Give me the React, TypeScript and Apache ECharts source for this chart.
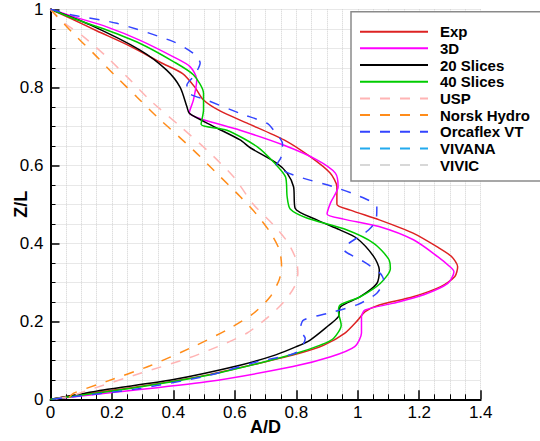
import React, { useEffect, useRef } from "react";
import * as echarts from "echarts";

type P = [number, number];

const xTicks = [0, 0.2, 0.4, 0.6, 0.8, 1, 1.2, 1.4];
const yTicks = [0, 0.2, 0.4, 0.6, 0.8, 1];

const seriesNames = ["Exp", "3D", "20 Slices", "40 Slices", "USP", "Norsk Hydro", "Orcaflex VT", "VIVANA", "VIVIC"];

const expData: P[] = [
  [0, 1], [0.07, 0.975], [0.15, 0.945], [0.26, 0.905], [0.36, 0.863], [0.43, 0.835], [0.47, 0.8], [0.497, 0.768],
  [0.55, 0.74], [0.64, 0.708], [0.76, 0.665], [0.845, 0.622], [0.91, 0.58], [0.932, 0.545], [0.932, 0.5],
  [0.976, 0.485], [1.07, 0.46], [1.18, 0.426], [1.26, 0.39], [1.305, 0.366], [1.325, 0.34], [1.316, 0.315],
  [1.27, 0.289], [1.18, 0.263], [1.07, 0.242], [1.024, 0.225], [1.0, 0.203], [0.957, 0.169], [0.89, 0.139],
  [0.81, 0.118], [0.676, 0.092], [0.508, 0.062], [0.284, 0.032], [0.06, 0.008], [0, 0],
];

const d3Data: P[] = [
  [0, 1], [0.08, 0.98], [0.183, 0.955], [0.29, 0.921], [0.4, 0.878], [0.454, 0.853], [0.476, 0.82], [0.465, 0.767],
  [0.452, 0.735], [0.486, 0.72], [0.617, 0.69], [0.758, 0.652], [0.867, 0.614], [0.927, 0.58], [0.936, 0.545],
  [0.912, 0.505], [0.9, 0.475], [0.954, 0.462], [1.069, 0.443], [1.181, 0.409], [1.26, 0.366], [1.3, 0.34],
  [1.313, 0.327], [1.293, 0.297], [1.215, 0.268], [1.114, 0.246], [1.024, 0.229], [1.012, 0.212], [1.012, 0.17],
  [0.99, 0.135], [0.912, 0.109], [0.789, 0.084], [0.508, 0.045], [0.172, 0.015], [0, 0],
];

const s20Data: P[] = [
  [0, 1], [0.129, 0.96], [0.29, 0.896], [0.378, 0.844], [0.422, 0.8], [0.444, 0.75], [0.452, 0.733], [0.53, 0.7],
  [0.617, 0.665], [0.65, 0.645], [0.737, 0.605], [0.77, 0.58], [0.791, 0.545], [0.796, 0.49], [0.867, 0.46],
  [0.94, 0.435], [0.997, 0.413], [1.052, 0.366], [1.07, 0.332], [1.062, 0.297], [1.008, 0.263], [0.943, 0.237],
  [0.937, 0.212], [0.9, 0.186], [0.845, 0.152], [0.8, 0.135], [0.733, 0.114], [0.62, 0.088], [0.396, 0.05],
  [0.172, 0.024], [0, 0],
];

const s40Data: P[] = [
  [0, 1], [0.08, 0.975], [0.183, 0.947], [0.29, 0.913], [0.4, 0.866], [0.465, 0.832], [0.498, 0.785], [0.498, 0.742],
  [0.49, 0.705], [0.574, 0.69], [0.672, 0.648], [0.73, 0.605], [0.765, 0.57], [0.77, 0.52], [0.78, 0.488],
  [0.834, 0.465], [0.965, 0.434], [1.052, 0.4], [1.1, 0.36], [1.106, 0.335], [1.073, 0.297], [1.008, 0.263],
  [0.943, 0.242], [0.937, 0.225], [0.946, 0.19], [0.921, 0.156], [0.878, 0.139], [0.8, 0.118], [0.676, 0.092],
  [0.508, 0.061], [0.284, 0.031], [0, 0],
];

const uspData: P[] = [
  [0, 1], [0.031, 0.973], [0.107, 0.93], [0.183, 0.878], [0.259, 0.819], [0.324, 0.767], [0.422, 0.7],
  [0.509, 0.639], [0.595, 0.571], [0.66, 0.5], [0.726, 0.447], [0.77, 0.405], [0.8, 0.357], [0.805, 0.323],
  [0.794, 0.289], [0.76, 0.25], [0.71, 0.212], [0.64, 0.17], [0.574, 0.145], [0.454, 0.107], [0.29, 0.066],
  [0.129, 0.025], [0.06, 0.007], [0, 0],
];

const norskData: P[] = [
  [0, 1], [0.074, 0.938], [0.14, 0.887], [0.21, 0.83], [0.28, 0.776], [0.346, 0.725], [0.465, 0.639],
  [0.552, 0.571], [0.617, 0.52], [0.67, 0.475], [0.715, 0.428], [0.745, 0.383], [0.752, 0.34], [0.744, 0.306],
  [0.715, 0.263], [0.66, 0.22], [0.574, 0.178], [0.465, 0.135], [0.324, 0.086], [0.183, 0.046], [0.074, 0.015],
  [0.055, 0],
];

const orcaData: P[] = [
  [0, 1], [0.074, 0.985], [0.216, 0.964], [0.4, 0.917], [0.465, 0.887], [0.487, 0.862], [0.465, 0.827],
  [0.444, 0.806], [0.449, 0.785], [0.509, 0.767], [0.617, 0.733], [0.704, 0.708], [0.726, 0.69], [0.755, 0.655],
  [0.75, 0.62], [0.735, 0.6], [0.791, 0.575], [0.92, 0.545], [1.008, 0.52], [1.062, 0.494], [1.06, 0.46],
  [1.035, 0.434], [0.954, 0.385], [1.019, 0.353], [1.073, 0.323], [1.084, 0.306], [1.062, 0.272], [0.997, 0.242],
  [0.9, 0.22], [0.823, 0.203], [0.813, 0.178], [0.829, 0.156], [0.8, 0.12], [0.676, 0.097], [0.508, 0.06],
  [0.284, 0.027], [0, 0],
];

const vivanaData: P[] = [];
const vivicData: P[] = [];

const colors = ["#dd2222", "#ff00ff", "#000000", "#00cc00", "#ffb4b4", "#ff8c1a", "#3344ff", "#22aaee", "#d8d8d8"];
const dashed = [false, false, false, false, true, true, true, true, true];
const allData = [expData, d3Data, s20Data, s40Data, uspData, norskData, orcaData, vivanaData, vivicData];

const FONT = "'Liberation Sans', Arial, Helvetica, sans-serif";

export default function App() {
  const ref = useRef<HTMLDivElement>(null);
  useEffect(() => {
    if (!ref.current) return;
    const chart = echarts.init(ref.current, undefined, { renderer: "svg" });
    const fmt = (v: number) => String(Number(v.toFixed(2)));
    const grid = "#d0d0d0";
    const axisCommon = {
      type: "value" as const,
      axisLine: { show: true, lineStyle: { color: "#000", width: 2 } },
      axisTick: { show: true, inside: true, length: 9, lineStyle: { color: "#000", width: 1.5 } },
      minorTick: { show: true, splitNumber: 4, length: 5, lineStyle: { color: "#000", width: 1 } },
      splitLine: { show: true, lineStyle: { color: grid, type: "dotted", width: 1 } },
      minorSplitLine: { show: true, lineStyle: { color: grid, type: "dotted", width: 1 } },
    };
    chart.setOption({
      animation: false,
      backgroundColor: "#ffffff",
      grid: { left: 50.5, right: 59.3, top: 9.3, bottom: 41.7, containLabel: false },
      xAxis: {
        ...axisCommon,
        min: xTicks[0],
        max: xTicks[xTicks.length - 1],
        interval: 0.2,
        axisLabel: { formatter: fmt, color: "#000", fontSize: 17, fontFamily: FONT, margin: 5 },
      },
      yAxis: {
        ...axisCommon,
        min: yTicks[0],
        max: yTicks[yTicks.length - 1],
        interval: 0.2,
        axisLabel: { formatter: fmt, color: "#000", fontSize: 17, fontFamily: FONT, margin: 7 },
      },
      legend: {
        orient: "vertical",
        left: 351,
        top: 11.7,
        padding: [12, 40, 8, 8],
        itemWidth: 68,
        itemHeight: 12,
        itemGap: 0.67,
        borderColor: "#8a8a8a",
        borderWidth: 1.5,
        backgroundColor: "#ffffff",
        itemStyle: { opacity: 0 },
        data: seriesNames,
        textStyle: { color: "#000", fontSize: 15, fontWeight: "bold", fontFamily: FONT, lineHeight: 16, padding: [0, 0, 0, 7] },
      },
      graphic: [
        {
          type: "text",
          x: 21,
          y: 204.3,
          rotation: Math.PI / 2,
          style: { text: "Z/L", fontSize: 18, fontWeight: "bold", fontFamily: FONT, fill: "#000", align: "center", verticalAlign: "middle" },
        },
        {
          type: "text",
          x: 265.6,
          y: 427,
          style: { text: "A/D", fontSize: 18, fontWeight: "bold", fontFamily: FONT, fill: "#000", align: "center", verticalAlign: "middle" },
        },
      ],
      series: seriesNames.map((name, i) => ({
        name,
        type: "line",
        data: allData[i],
        symbol: "none",
        smooth: 0.25,
        clip: true,
        color: colors[i],
        lineStyle: { color: colors[i], width: 1.5, type: dashed[i] ? [10, 10] : "solid" },
      })),
    });
    return () => chart.dispose();
  }, []);
  return <div ref={ref} style={{ position: "fixed", left: 0, top: 0, width: 540, height: 441 }} />;
}
